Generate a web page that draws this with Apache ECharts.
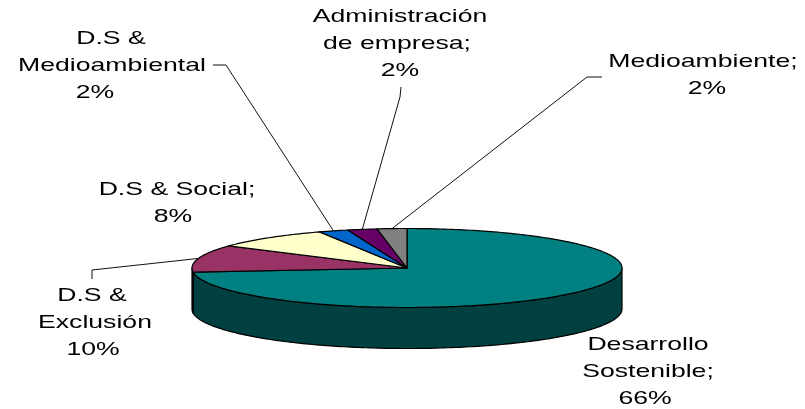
<!DOCTYPE html>
<html><head><meta charset="utf-8">
<script src="https://cdn.jsdelivr.net/npm/echarts@6/dist/echarts.min.js"></script>
<style>html,body{margin:0;padding:0;background:#fff}#c{width:805px;height:409px}</style>
</head><body><div id="c"></div>
<script>
// ---- data ----
const categories = ['Desarrollo Sostenible', 'D.S & Exclusión', 'D.S & Social', 'D.S & Medioambiental', 'Administración de empresa', 'Medioambiente'];
const values = [66, 10, 8, 2, 2, 2];
const labelNameLines = [
  ['Desarrollo', 'Sostenible;'],
  ['D.S &', 'Exclusión'],
  ['D.S & Social;'],
  ['D.S &', 'Medioambiental'],
  ['Administración', 'de empresa;'],
  ['Medioambiente;']
];

// ---- styles / layout ----
const topColors = ['#008080', '#993366', '#FFFFCC', '#0066CC', '#660066', '#808080'];
const sideColors = ['#004040', '#4d1a33', '#808066', '#003366', '#330033', '#404040'];
const labelLayout = [
  { x: 648, y: 345, dx: [0, 0, -3] },
  { x: 93, y: 296, dx: [-1, 2, 0], lead: [[92, 279], [92, 270]] },
  { x: 177, y: 190, dx: [0, -4] },
  { x: 112, y: 39, dx: [-1, 0, -17], lead: [[213, 65], [226, 65]] },
  { x: 400, y: 17, dx: [0, -3, 0], lead: [[401, 87], [400, 97]] },
  { x: 703, y: 62, dx: [0, 4], lead: [[602, 77], [587, 77]] }
];
const LINE_H = 26.7;
const DEPTH = 41 / 39.5;

const total = values.reduce((a, b) => a + b, 0);
let acc = 0;
const sliceData = values.map((v, i) => {
  const s = acc / total * 360; acc += v; const e = acc / total * 360;
  return [s, e, i];
});

function pt(api, phi, drop) {
  const r = phi * Math.PI / 180;
  return api.coord([Math.sin(r), Math.cos(r) - (drop || 0)]);
}
function arc(api, a, b, drop) {
  const pts = [];
  const n = Math.max(2, Math.ceil(b - a));
  for (let k = 0; k <= n; k++) pts.push(pt(api, a + (b - a) * k / n, drop));
  return pts;
}

function renderSide(params, api) {
  const s = api.value(0), e = api.value(1), i = api.value(2);
  const a = Math.max(s, 90), b = Math.min(e, 270);
  if (a >= b) return { type: 'group', children: [] };
  const pts = arc(api, a, b, 0).concat(arc(api, a, b, DEPTH).reverse());
  return { type: 'polygon', shape: { points: pts },
    style: { fill: sideColors[i], stroke: '#000', lineWidth: 1.2, lineJoin: 'round' } };
}
function renderTop(params, api) {
  const s = api.value(0), e = api.value(1), i = api.value(2);
  const pts = [api.coord([0, 0])].concat(arc(api, s, e, 0));
  return { type: 'polygon', shape: { points: pts },
    style: { fill: topColors[i], stroke: '#000', lineWidth: 1.2, lineJoin: 'round' } };
}
function renderLabel(params, api) {
  const s = api.value(0), e = api.value(1), i = api.value(2);
  const L = labelLayout[i];
  const lines = labelNameLines[i].concat([values[i] + '%']);
  const children = lines.map((t, k) => ({
    type: 'text', x: L.x + (L.dx[k] || 0), y: L.y + k * LINE_H, scaleX: 1.4,
    style: { text: t, fill: '#000', font: '19px "Liberation Sans", Arial, sans-serif',
      align: 'center', verticalAlign: 'middle' }
  }));
  if (L.lead) {
    const edge = pt(api, (s + e) / 2, 0);
    children.push({ type: 'polyline', shape: { points: L.lead.concat([edge]) },
      style: { fill: null, stroke: '#111', lineWidth: 1 } });
  }
  return { type: 'group', children };
}

const chart = echarts.init(document.getElementById('c'), null, { renderer: 'canvas' });
chart.setOption({
  animation: false,
  backgroundColor: '#fff',
  grid: { left: 192, width: 430, top: 228.5, height: 79 },
  xAxis: { type: 'value', min: -1, max: 1, show: false },
  yAxis: { type: 'value', min: -1, max: 1, show: false },
  series: [
    { type: 'custom', name: 'side', data: sliceData, renderItem: renderSide, clip: false, z: 1, silent: true },
    { type: 'custom', name: 'top', data: sliceData, renderItem: renderTop, clip: false, z: 2, silent: true },
    { type: 'custom', name: 'labels', data: sliceData, renderItem: renderLabel, clip: false, z: 3, silent: true }
  ]
});
</script></body></html>
